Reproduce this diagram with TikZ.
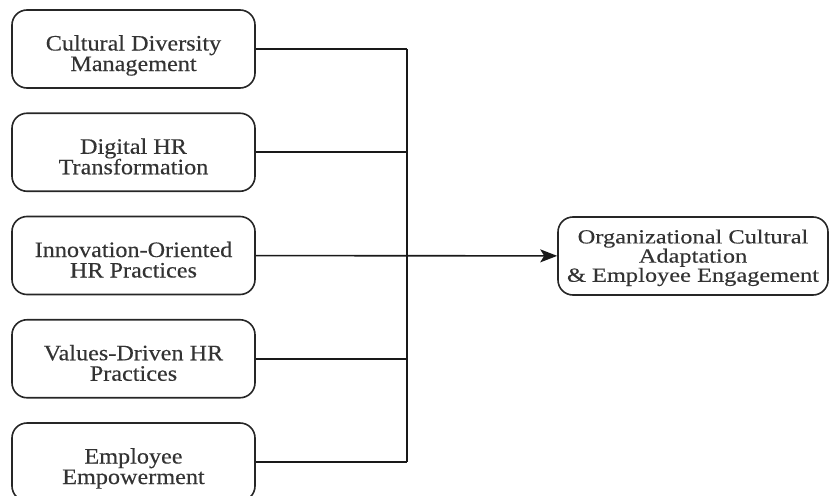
\documentclass[tikz,border=0pt]{standalone}
\usepackage{fontspec}
\setmainfont{Liberation Serif}[FakeStretch=1.1,FakeBold=0.3]
\newfontfamily\widefont{Liberation Serif}[FakeStretch=1.22,FakeBold=0.3]
\usepackage{tikz}
\usetikzlibrary{arrows.meta,shapes,positioning,calc}
\tikzset{
    factor/.style={
        rectangle,
        rounded corners=15pt,
        draw=black!85,
        line width=1.6pt,
        minimum width=243pt,
        minimum height=78pt,
        align=center,
        text=black!80,
        text height=49pt,
        text depth=5pt,
        font=\fontsize{22pt}{20.5pt}\selectfont,
    },
    result/.style={
        factor,
        minimum width=270pt,
        inner sep=2pt,
        text height=56pt,
        text depth=4.5pt,
        font=\widefont\fontsize{20pt}{17.5pt}\selectfont,
    },
    link/.style={
        draw=black!90,
        -,
        line width=1.6pt,
    },
    every edge/.style={
        draw=black!90,
        -{Stealth[length=17pt,width=13pt,inset=4pt]},
        line width=1.6pt,
    },
    node distance=103.25pt,
}
\begin{document}
\begin{tikzpicture}[x=1pt,y=1pt]
                \clip (0,0) rectangle (832,-495);
                \node [factor] at (133.5,-49) (CDM) {Cultural Diversity\\Management};
                \node [factor, below of=CDM] (DHR) {Digital HR\\Transformation};
                \node [factor, below of=DHR] (IOP) {Innovation-Oriented\\HR Practices};
                \node [factor, below of=IOP] (VDP) {Values-Driven HR\\Practices};
                \node [factor, below of=VDP] (EMP) {Employee\\Empowerment};
                \node [result] at (693,-256) (OCA) {Organizational Cultural\\Adaptation\\\& Employee Engagement};

                \coordinate (BusTop) at (407,-49);
                \coordinate (BusBot) at (407,-462);

                \draw [link] (CDM) -- (BusTop);
                \draw [link] (DHR) -- (DHR -| BusTop);
                \draw [link] (VDP) -- (VDP -| BusTop);
                \draw [link] (EMP) -- (BusBot);
                \draw [link] (BusTop) -- (BusBot);

                \draw (IOP) edge node {} (OCA);
            \end{tikzpicture}
\end{document}
